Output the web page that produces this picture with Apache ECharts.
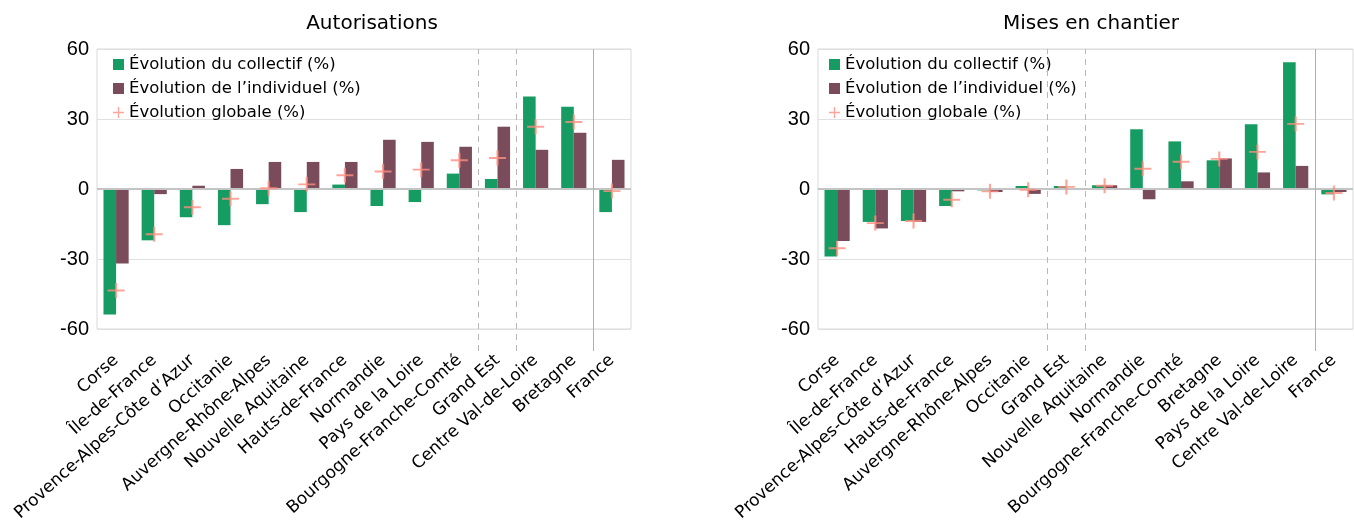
<!DOCTYPE html>
<html>
<head>
<meta charset="utf-8">
<script src="https://cdn.jsdelivr.net/npm/echarts@6/dist/echarts.min.js"></script>
<style>
  html, body { margin: 0; padding: 0; background: #fff; }
  #chart { width: 1354px; height: 521px; }
</style>
</head>
<body>
<div id="chart"></div>
<script>
// Autorisations
const regionsAut = ['Corse', 'Île-de-France', 'Provence-Alpes-Côte d’Azur', 'Occitanie', 'Auvergne-Rhône-Alpes',
  'Nouvelle Aquitaine', 'Hauts-de-France', 'Normandie', 'Pays de la Loire', 'Bourgogne-Franche-Comté',
  'Grand Est', 'Centre Val-de-Loire', 'Bretagne', 'France']
const collectifAut = [-53.8, -22.0, -12.1, -15.5, -6.5, -9.9, 1.9, -7.3, -5.6, 6.6, 4.3, 39.6, 35.3, -9.9]
const individuelAut = [-31.9, -2.2, 1.4, 8.6, 11.6, 11.6, 11.6, 21.1, 20.2, 18.1, 26.7, 16.8, 24.1, 12.5]
const globaleAut = [-43.5, -19.4, -7.8, -4.2, 0.3, 2.0, 5.9, 7.5, 8.3, 12.3, 13.3, 26.7, 28.7, -0.9]

// Mises en chantier
const regionsMec = ['Corse', 'Île-de-France', 'Provence-Alpes-Côte d’Azur', 'Hauts-de-France', 'Auvergne-Rhône-Alpes',
  'Occitanie', 'Grand Est', 'Nouvelle Aquitaine', 'Normandie', 'Bourgogne-Franche-Comté',
  'Bretagne', 'Pays de la Loire', 'Centre Val-de-Loire', 'France']
const collectifMec = [-28.9, -14.1, -13.7, -7.3, -0.6, 1.3, 1.3, 1.6, 25.6, 20.4, 12.3, 27.7, 54.3, -2.3]
const individuelMec = [-22.3, -16.9, -14.1, -1.0, -1.3, -2.1, -0.3, 1.6, -4.4, 3.3, 13.1, 7.1, 9.9, -1.3]
const globaleMec = [-25.4, -14.6, -13.7, -4.6, -1.0, -0.3, 0.9, 1.4, 8.7, 11.7, 12.9, 15.9, 27.9, -1.7]

const yTicks = [-60, -30, 0, 30, 60]
// séparateurs verticaux (entre catégories)
const dashedAut = [9.5, 10.5]
const solidAut = [12.5]
const dashedMec = [5.5, 6.5]
const solidMec = [12.5]

const names = ['Évolution du collectif (%)', 'Évolution de l’individuel (%)', 'Évolution globale (%)']
const GREEN = '#169B62'
const BROWN = '#7A4C5B'
const SALMON = '#FF8D7E'
const PLUS = 'path://M7,0h2v7h7v2h-7v7h-2v-7h-7v-2h7z'
const SQUARE = 'path://M0,0h10v10h-10z'
const FONT = 'DejaVu Sans'

const grids = [
  { left: 97, right: 723, top: 49, bottom: 192, show: true, borderColor: '#d9d9d9' },
  { left: 818, right: 1, top: 49, bottom: 192, show: true, borderColor: '#d9d9d9' },
  // grilles invisibles pour les séparateurs, qui descendent sous le cadre
  { left: 97, right: 723, top: 49, bottom: 170, show: false },
  { left: 818, right: 1, top: 49, bottom: 170, show: false },
].map(g => Object.assign({ containLabel: false, outerBoundsMode: 'none' }, g))

function catAxis(data, gi) {
  return {
    type: 'category', gridIndex: gi, data: data,
    axisLine: { show: false }, axisTick: { show: false },
    axisLabel: { rotate: 42, interval: 0, margin: 29, color: '#000', fontFamily: FONT, fontSize: 17 },
  }
}
function valAxis(gi) {
  return {
    type: 'value', gridIndex: gi, min: yTicks[0], max: yTicks[yTicks.length - 1], interval: 30,
    axisLine: { show: false }, axisTick: { show: false },
    axisLabel: { color: '#000', fontFamily: 'Liberation Sans', fontSize: 20, margin: 8 },
    splitLine: { lineStyle: { color: '#e0e0e0', width: 1 } },
  }
}
function seriesFor(gi, col, ind, glob, dashed, solid) {
  return [
    { name: names[0], type: 'bar', xAxisIndex: gi, yAxisIndex: gi, data: col, itemStyle: { color: GREEN },
      barGap: 0, barCategoryGap: '34%',
      markLine: { silent: true, symbol: 'none', label: { show: false },
        lineStyle: { color: '#c4c4c4', width: 2, type: 'solid' }, data: [{ yAxis: 0 }] } },
    { name: names[1], type: 'bar', xAxisIndex: gi, yAxisIndex: gi, data: ind, itemStyle: { color: BROWN },
      barGap: 0, barCategoryGap: '34%' },
    { name: names[2], type: 'scatter', xAxisIndex: gi, yAxisIndex: gi, data: glob, z: 5,
      symbol: PLUS, symbolSize: [17, 15], itemStyle: { color: SALMON } },
    { type: 'line', xAxisIndex: gi + 2, yAxisIndex: gi + 2, data: [], silent: true,
      markLine: {
        silent: true, symbol: 'none', label: { show: false },
        data: dashed.map(v => ({ xAxis: v, lineStyle: { color: '#b8b8b8', width: 1, type: [6, 5] } }))
          .concat(solid.map(v => ({ xAxis: v, lineStyle: { color: '#b0b0b0', width: 1, type: 'solid' } }))),
      } },
  ]
}
function legendFor(left) {
  return {
    orient: 'vertical', left: left, top: 51, itemGap: 7, itemWidth: 11, itemHeight: 14,
    textStyle: { color: '#000', fontFamily: FONT, fontSize: 16.5 },
    selectedMode: false,
    data: [
      { name: names[0], icon: SQUARE, itemStyle: { color: GREEN } },
      { name: names[1], icon: SQUARE, itemStyle: { color: BROWN } },
      { name: names[2], icon: PLUS, itemStyle: { color: SALMON } },
    ],
  }
}

const chart = echarts.init(document.getElementById('chart'))
chart.setOption({
  animation: false,
  title: [
    { text: 'Autorisations', left: 367, top: 9, textAlign: 'center',
      textStyle: { color: '#000', fontFamily: FONT, fontSize: 20, fontWeight: 'normal' } },
    { text: 'Mises en chantier', left: 1086, top: 9, textAlign: 'center',
      textStyle: { color: '#000', fontFamily: FONT, fontSize: 20, fontWeight: 'normal' } },
  ],
  legend: [legendFor(108), legendFor(824)],
  grid: grids,
  xAxis: [
    catAxis(regionsAut, 0), catAxis(regionsMec, 1),
    { type: 'value', gridIndex: 2, min: -0.5, max: 13.5, show: false },
    { type: 'value', gridIndex: 3, min: -0.5, max: 13.5, show: false },
  ],
  yAxis: [
    valAxis(0), valAxis(1),
    { type: 'value', gridIndex: 2, show: false },
    { type: 'value', gridIndex: 3, show: false },
  ],
  series: seriesFor(0, collectifAut, individuelAut, globaleAut, dashedAut, solidAut)
    .concat(seriesFor(1, collectifMec, individuelMec, globaleMec, dashedMec, solidMec)),
})
window.onresize = function () {
  chart.resize()
}
</script>
</body>
</html>
